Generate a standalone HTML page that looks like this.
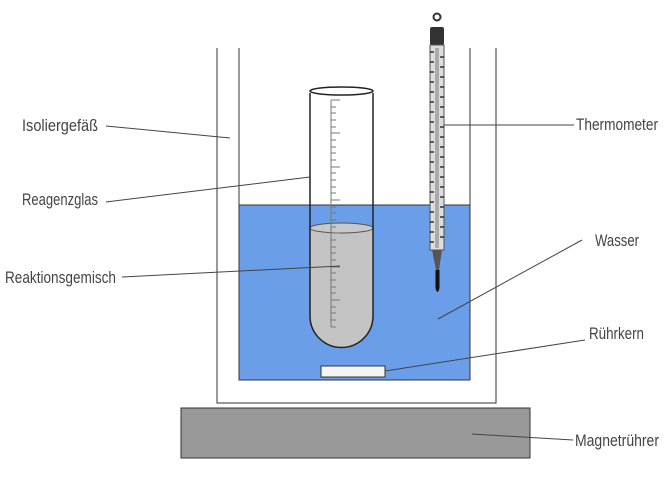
<!DOCTYPE html>
<html><head><meta charset="utf-8"><style>html,body{margin:0;padding:0;background:#fff}svg{display:block}</style></head>
<body>
<svg width="671" height="478" viewBox="0 0 671 478" xmlns="http://www.w3.org/2000/svg">
<rect x="239" y="205" width="231" height="175" fill="#6a9ee8" stroke="#333" stroke-width="1"/>
<path d="M217 48 V403 H496 V48" fill="none" stroke="#333" stroke-width="1"/>
<path d="M239 48 V205 M470 48 V205" fill="none" stroke="#333" stroke-width="1"/>
<rect x="321" y="366" width="64" height="11" fill="#f4f4f4" stroke="#333" stroke-width="1"/>
<rect x="181" y="408" width="349" height="50" fill="#999" stroke="#333" stroke-width="1"/>
<path d="M310 228 V316 A31.5 31.5 0 0 0 373 316 V228 Z" fill="#c3c3c3"/>
<ellipse cx="341.5" cy="228" rx="31.5" ry="5" fill="#c8c8c8" stroke="#555" stroke-width="1"/>
<path d="M310 93 V316 A31.5 31.5 0 0 0 373 316 V93" fill="none" stroke="#222" stroke-width="1.5"/>
<ellipse cx="341.5" cy="91" rx="31.5" ry="4" fill="#fff" stroke="#222" stroke-width="1.5"/>
<g stroke="#777" stroke-width="1">
<line x1="331" y1="100" x2="331" y2="327"/>
<path d="M331 100h9M331 107h5M331 113h5M331 120h5M331 127h5M331 133h9M331 140h5M331 147h5M331 153h5M331 160h5M331 167h9M331 173h5M331 180h5M331 187h5M331 193h5M331 200h9M331 207h5M331 213h5M331 220h5M331 227h5M331 233h9M331 240h5M331 247h5M331 253h5M331 260h5M331 267h9M331 273h5M331 280h5M331 287h5M331 293h5M331 300h9M331 307h5M331 313h5M331 320h5M331 327h5"/>
</g>
<circle cx="437" cy="17" r="3.5" fill="none" stroke="#333" stroke-width="2"/>
<rect x="430" y="27" width="14" height="18" rx="2" fill="#333"/>
<rect x="430" y="45" width="14" height="205" fill="#ddd" stroke="#555" stroke-width="1"/>
<rect x="435" y="48" width="4" height="200" fill="#aaa"/>
<g stroke="#111" stroke-width="1.2">
<path d="M430 52h4M430 62h4M430 72h4M430 82h4M430 92h4M430 102h4M430 112h4M430 122h4M430 132h4M430 142h4M430 152h4M430 162h4M430 172h4M430 182h4M430 192h4M430 202h4M430 212h4M430 222h4M430 232h4M430 242h4"/>
<path d="M440 57h4M440 67h4M440 77h4M440 87h4M440 97h4M440 107h4M440 117h4M440 127h4M440 137h4M440 147h4M440 157h4M440 167h4M440 177h4M440 187h4M440 197h4M440 207h4M440 217h4M440 227h4M440 237h4"/>
</g>
<path d="M432 250 L436 270 V288 Q437.5 295 439 288 V270 L442 250 Z" fill="#555"/>
<path d="M435.5 270 V288 Q437.5 296 439.5 288 V270 Z" fill="#111"/>
<g stroke="#444" stroke-width="1" fill="none">
<line x1="106" y1="126" x2="230" y2="138"/>
<line x1="106" y1="202" x2="310" y2="177"/>
<line x1="122" y1="277" x2="340" y2="266"/>
<line x1="444" y1="125" x2="574" y2="125"/>
<line x1="582" y1="240" x2="438" y2="319"/>
<line x1="585" y1="340" x2="385" y2="371"/>
<line x1="573" y1="440" x2="472" y2="434"/>
</g>
<g font-family="'Liberation Sans Narrow','Liberation Sans',sans-serif" font-size="17" fill="#444">
<text x="22" y="131" textLength="76" lengthAdjust="spacingAndGlyphs">Isoliergefäß</text>
<text x="22" y="205" textLength="76" lengthAdjust="spacingAndGlyphs">Reagenzglas</text>
<text x="5" y="283" textLength="111" lengthAdjust="spacingAndGlyphs">Reaktionsgemisch</text>
<text x="576" y="130" textLength="82" lengthAdjust="spacingAndGlyphs">Thermometer</text>
<text x="595" y="246" textLength="44" lengthAdjust="spacingAndGlyphs">Wasser</text>
<text x="589" y="339" textLength="55" lengthAdjust="spacingAndGlyphs">Rührkern</text>
<text x="575" y="446" textLength="84" lengthAdjust="spacingAndGlyphs">Magnetrührer</text>
</g>
</svg>
</body></html>
